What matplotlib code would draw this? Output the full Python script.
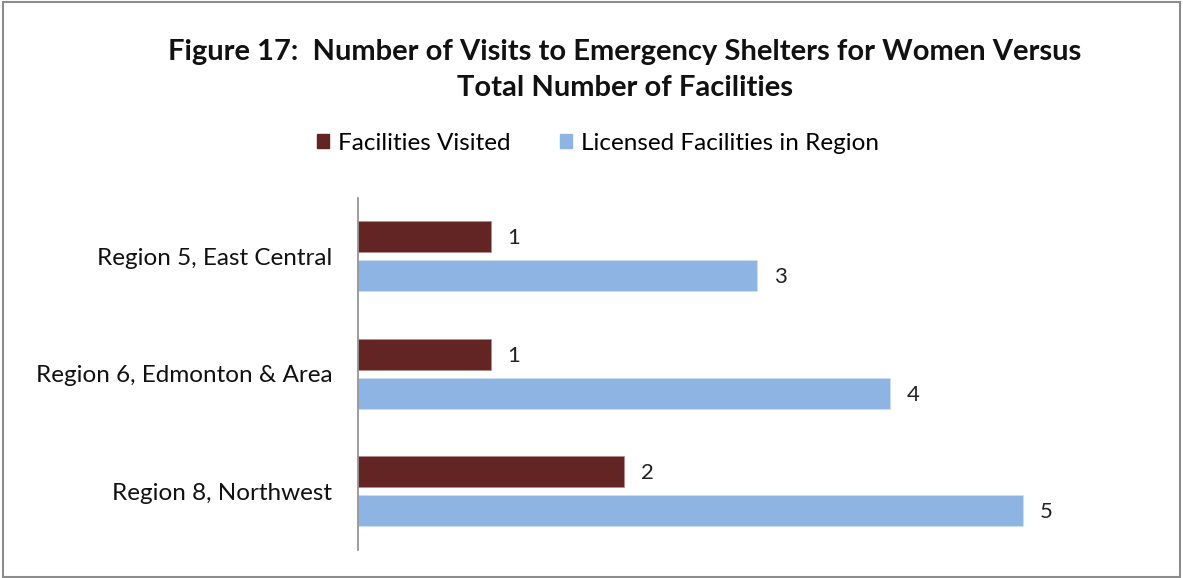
import matplotlib
matplotlib.use("Agg")
import matplotlib.pyplot as plt
from matplotlib.patches import Rectangle, Patch

plt.rcParams['font.family'] = ['Lato', 'DejaVu Sans']

categories = ["Region 5, East Central", "Region 6, Edmonton & Area", "Region 8, Northwest"]
facilities_visited = [1, 1, 2]
licensed_facilities = [3, 4, 5]
series_names = ["Facilities Visited", "Licensed Facilities in Region"]
title = "Figure 17:  Number of Visits to Emergency Shelters for Women Versus\nTotal Number of Facilities"

red = "#632523"
blue = "#8EB4E3"

W, H = 1183, 578
fig = plt.figure(figsize=(W / 100, H / 100), dpi=100)

# outer frame
fig.patches.append(Rectangle((3 / W, 1 / H), (1180 - 3) / W, (576 - 1) / H,
                             transform=fig.transFigure, fill=False,
                             edgecolor="#8c8c8c", linewidth=1.5))

ax = fig.add_axes([358 / W, 1 - 550 / H, (133 * 6) / W, 352.5 / H])

y = list(range(len(categories)))
h = 0.264
off = 0.166
b1 = ax.barh([v - off for v in y], facilities_visited, height=h, color=red,
             edgecolor="#b88", linewidth=0.4)
b2 = ax.barh([v + off for v in y], licensed_facilities, height=h, color=blue,
             edgecolor="#cfe0f5", linewidth=0.4)

for bars, vals in ((b1, facilities_visited), (b2, licensed_facilities)):
    for bar, v in zip(bars, vals):
        ax.annotate(str(v), (v, bar.get_y() + bar.get_height() / 2),
                    xytext=(12, -1), textcoords="offset points",
                    ha="left", va="center", fontsize=16, color="#222222")

ax.set_xlim(0, 6)
ax.set_ylim(2.5, -0.5)
ax.set_yticks(y)
ax.set_yticklabels(categories, fontsize=17.5, color="#111111")
ax.tick_params(axis="y", length=0, pad=18.5)
ax.set_xticks([])
for s in ("top", "right", "bottom"):
    ax.spines[s].set_visible(False)
ax.spines["left"].set_color("#8c8c8c")
ax.spines["left"].set_linewidth(1.2)

fig.text(625 / W, 1 - 70 / H, title, ha="center", va="center",
         fontsize=21, fontweight="bold", linespacing=1.5, color="#111111")

handles = [Patch(facecolor=red, edgecolor=red), Patch(facecolor=blue, edgecolor=blue)]
fig.legend(handles, series_names, loc="center", bbox_to_anchor=(598 / W, 1 - 143 / H),
           ncol=2, frameon=False, fontsize=17.5, handlelength=0.5, handleheight=0.5,
           handletextpad=0.4, columnspacing=2.0)

fig.savefig("out.png", dpi=100)
